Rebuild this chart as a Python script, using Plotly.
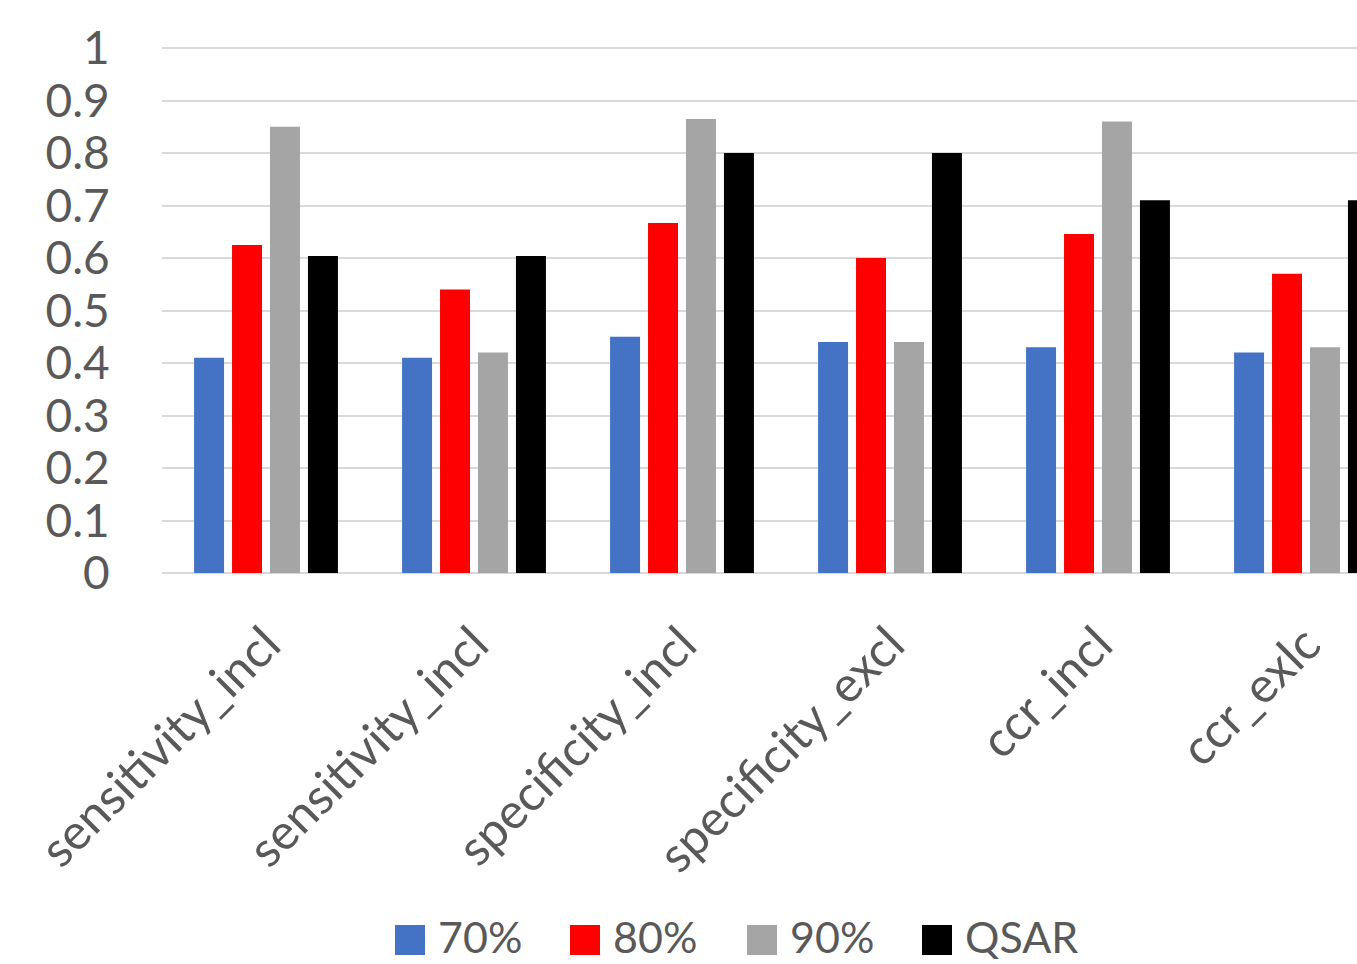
import plotly.graph_objects as go

# Metric groups along the x axis (two groups share the same name)
categories = ["sensitivity_incl", "sensitivity_incl", "specificity_incl",
              "specificity_excl", "ccr_incl", "ccr_exlc"]

# Scores per training-set fraction and the QSAR reference model
p70 = [0.41, 0.41, 0.45, 0.44, 0.43, 0.42]
p80 = [0.625, 0.54, 0.667, 0.60, 0.646, 0.57]
p90 = [0.85, 0.42, 0.865, 0.44, 0.86, 0.43]
qsar = [0.604, 0.604, 0.80, 0.80, 0.71, 0.71]

y_ticks = [0, 0.1, 0.2, 0.3, 0.4, 0.5, 0.6, 0.7, 0.8, 0.9, 1]
y_tick_text = ["0", "0.1", "0.2", "0.3", "0.4", "0.5", "0.6", "0.7", "0.8", "0.9", "1"]

series = [
    ("70%", p70, "#4472C4"),
    ("80%", p80, "#FF0000"),
    ("90%", p90, "#A5A5A5"),
    ("QSAR", qsar, "#000000"),
]

FONT = "Lato, 'Open Sans', sans-serif"
TEXT_COLOR = "#595959"
GRID = "#D9D9D9"

W, H = 1357, 964
Y_TOP = 1.004                    # a touch above 1 so the top gridline shows
L, B = 162, 391                  # plot area edges in pixels
UNIT_PX = 525                    # pixels per 1.0 on the y axis
T = int(round(48 - (Y_TOP - 1) * UNIT_PX))
PW, PH = W - L, H - T - B

positions = list(range(len(categories)))

fig = go.Figure()
for name, vals, color in series:
    fig.add_trace(go.Bar(
        x=positions, y=vals, name=name,
        marker=dict(color=color, line=dict(width=0)),
        showlegend=False,
    ))


def px_x(px):
    return (px - L) / PW


def px_y(py):
    return (H - B - py) / PH


# Legend row drawn below the axis with large square swatches
legend_items = [(395, "70%", "#4472C4"), (570, "80%", "#FF0000"),
                (747, "90%", "#A5A5A5"), (922, "QSAR", "#000000")]
shapes = []
annotations = []
for x0, label, color in legend_items:
    shapes.append(dict(type="rect", xref="paper", yref="paper",
                       x0=px_x(x0), x1=px_x(x0 + 30),
                       y0=px_y(955), y1=px_y(925),
                       fillcolor=color, line=dict(width=0)))
    annotations.append(dict(xref="paper", yref="paper",
                            x=px_x(x0 + 42), y=px_y(936),
                            xanchor="left", yanchor="middle",
                            text=label, showarrow=False, borderpad=0,
                            font=dict(family=FONT, size=43, color=TEXT_COLOR)))

fig.update_layout(
    width=W, height=H,
    margin=dict(l=L, r=0, t=T, b=B, pad=0),
    paper_bgcolor="white", plot_bgcolor="white",
    barmode="group", bargap=0.27, bargroupgap=0.21,
    font=dict(family=FONT, color=TEXT_COLOR, size=44),
    shapes=shapes, annotations=annotations,
    showlegend=False,
)

fig.update_xaxes(
    range=[-0.5, -0.5 + PW / 208.0],
    tickmode="array", tickvals=positions, ticktext=categories,
    tickangle=-45, tickfont=dict(family=FONT, size=49, color=TEXT_COLOR),
    ticks="outside", ticklen=22, tickcolor="rgba(0,0,0,0)",
    showgrid=False, zeroline=False,
    showline=False,
)

fig.update_yaxes(
    range=[0, Y_TOP],
    tickmode="array", tickvals=y_ticks, ticktext=y_tick_text,
    tickfont=dict(family=FONT, size=46, color=TEXT_COLOR),
    ticks="outside", ticklen=42, tickcolor="rgba(0,0,0,0)",
    showgrid=True, gridcolor=GRID, gridwidth=2,
    zeroline=True, zerolinecolor=GRID, zerolinewidth=2,
    showline=False,
)

fig.write_html("out.html")
